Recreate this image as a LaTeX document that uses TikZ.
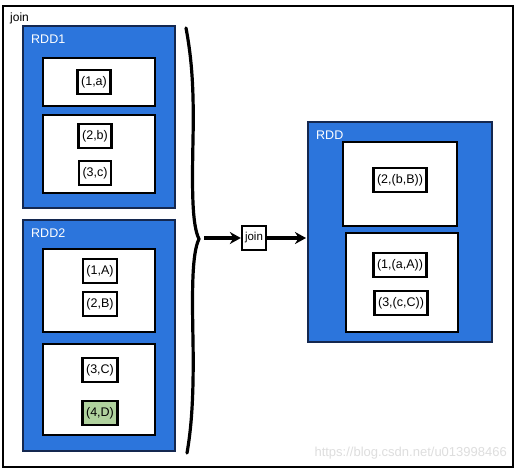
\documentclass[tikz,border=0pt]{standalone}
\usepackage{fontspec}
\setmainfont{Liberation Sans}
\usetikzlibrary{arrows.meta}
\definecolor{rddblue}{RGB}{44,117,220}
\definecolor{rddedge}{RGB}{20,40,80}
\definecolor{itemgreen}{RGB}{176,210,158}
\definecolor{wmark}{RGB}{222,222,222}
\tikzset{
  rddbox/.style={fill=rddblue, draw=rddedge, line width=1.4pt},
  partbox/.style={fill=white, draw=black, line width=2pt},
  item/.style={draw=black, fill=white, line width=2.4pt, font=\fontsize{12.5}{14}\selectfont,
    inner xsep=3.5pt, inner ysep=3pt, minimum height=24pt},
  rddlabel/.style={text=white, font=\fontsize{12.5}{14}\selectfont, anchor=west},
  flow/.style={line width=3.2pt, -{Stealth[length=11pt,width=12pt]}},
}
\begin{document}
\begin{tikzpicture}[x=1pt,y=-1pt]
\useasboundingbox (0,0) rectangle (517,472);
\fill[white] (0,0) rectangle (517,472);
% outer frame
\draw[line width=1.8pt] (3,6) rectangle (513,467);
\node[anchor=west, font=\fontsize{12}{14}\selectfont, inner sep=0pt] (title) at (10,18) {join};
% RDD1
\filldraw[rddbox] (23,26) rectangle (175,208);
\node[rddlabel, inner sep=0pt] (l1) at (31,39) {RDD1};
\filldraw[partbox] (43,58) rectangle (155,106);
\filldraw[partbox] (43,115) rectangle (155,193);
\node[item] (n1a) at (94,82) {(1,a)};
\node[item] (n2b) at (95,136) {(2,b)};
\node[item] (n3c) at (95,173) {(3,c)};
% RDD2
\filldraw[rddbox] (23,220) rectangle (175,451);
\node[rddlabel, inner sep=0pt] (l2) at (31,233) {RDD2};
\filldraw[partbox] (43,249) rectangle (155,332);
\filldraw[partbox] (43,344) rectangle (155,435);
\node[item] (n1A) at (100,271) {(1,A)};
\node[item] (n2B) at (100,304) {(2,B)};
\node[item] (n3C) at (100,370) {(3,C)};
\node[item, fill=itemgreen] (n4D) at (100,413) {(4,D)};
% brace
\draw[line width=3.2pt, line cap=round]
  (186,28) .. controls (192,60) and (194,90) .. (193,140)
  .. controls (192,190) and (192,225) .. (199,239)
  .. controls (192,253) and (192,290) .. (193,340)
  .. controls (194,400) and (191,430) .. (187,453);
\coordinate (tip) at (204,238);
% join
\node[item, font=\fontsize{11.5}{13}\selectfont, minimum height=24pt, inner xsep=3pt] (j) at (254,238) {join};
% RDD result
\filldraw[rddbox] (308,122) rectangle (492,342);
\node[rddlabel, inner sep=0pt] (l3) at (316,135) {RDD};
\filldraw[partbox] (343,142) rectangle (457,226);
\filldraw[partbox] (346,233) rectangle (458,332);
\node[item] (r2) at (400,180) {(2,(b,B))};
\node[item] (r1) at (400,265) {(1,(a,A))};
\node[item] (r3) at (401,303) {(3,(c,C))};
\coordinate (rin) at (306,238);
\draw[flow] (tip) -- (j.west);
\draw[flow] (j.east) -- (rin);
% watermark
\node[text=wmark, font=\fontsize{13}{15}\selectfont, anchor=east, inner sep=0pt] (wm) at (507,453) {https://blog.csdn.net/u013998466};
\end{tikzpicture}
\end{document}
